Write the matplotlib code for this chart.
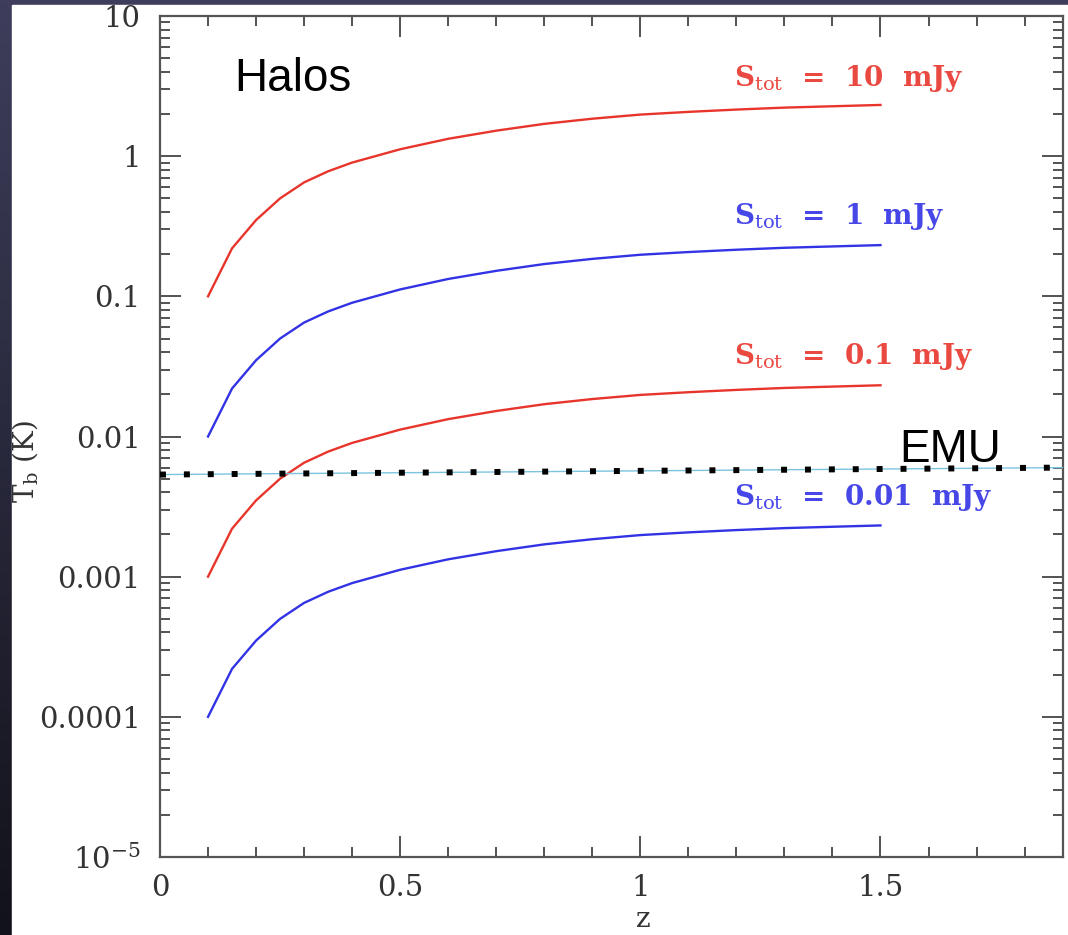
import matplotlib.pyplot as plt
import numpy as np
from matplotlib.patches import Rectangle
from matplotlib.ticker import FixedLocator, FixedFormatter, LogLocator, MultipleLocator, NullFormatter

plt.rcParams["mathtext.fontset"] = "dejavuserif"

# redshift grid of the model curves
z = [0.1, 0.15, 0.2, 0.25, 0.3, 0.35, 0.4, 0.5, 0.6, 0.7, 0.8, 0.9, 1.0, 1.1, 1.2, 1.3, 1.4, 1.5]
# brightness temperature (K) for each total flux
tb_10 = [0.1, 0.22, 0.35, 0.5, 0.65, 0.78, 0.9, 1.12, 1.33, 1.52, 1.7, 1.85, 1.98, 2.07, 2.15, 2.22, 2.27, 2.32]
tb_1 = [0.01, 0.022, 0.035, 0.05, 0.065, 0.078, 0.09, 0.112, 0.133, 0.152, 0.17, 0.185, 0.198, 0.207, 0.215, 0.222, 0.227, 0.232]
tb_01 = [0.001, 0.0022, 0.0035, 0.005, 0.0065, 0.0078, 0.009, 0.0112, 0.0133, 0.0152, 0.017, 0.0185, 0.0198, 0.0207, 0.0215, 0.0222, 0.0227, 0.0232]
tb_001 = [0.0001, 0.00022, 0.00035, 0.0005, 0.00065, 0.00078, 0.0009, 0.00112, 0.00133, 0.00152, 0.0017, 0.00185, 0.00198, 0.00207, 0.00215, 0.00222, 0.00227, 0.00232]

series = [
    (tb_10, "#e8352c", r"S$_{\rm tot}$  =  10  mJy", 3.6),
    (tb_1, "#3333e6", r"S$_{\rm tot}$  =  1  mJy", 0.37),
    (tb_01, "#e8352c", r"S$_{\rm tot}$  =  0.1  mJy", 0.037),
    (tb_001, "#3333e6", r"S$_{\rm tot}$  =  0.01  mJy", 0.0037),
]

# EMU sensitivity line
emu_z = [0.0, 1.88]
emu_tb = [0.00535, 0.0060]

ytick_vals = [1e-5, 1e-4, 1e-3, 1e-2, 1e-1, 1, 10]
ytick_labels = [r"$10^{-5}$", "0.0001", "0.001", "0.01", "0.1", "1", "10"]
xtick_vals = [0, 0.5, 1, 1.5]
xtick_labels = ["0", "0.5", "1", "1.5"]

W, H = 1068, 935
fig = plt.figure(figsize=(W / 100, H / 100), dpi=100)

# dark slide background with a white panel
bg = fig.add_axes([0, 0, 1, 1], zorder=-10)
grad = np.linspace(0, 1, 256)[:, None]
top = np.array([0x3e, 0x3e, 0x5c]) / 255
bot = np.array([0x12, 0x12, 0x1a]) / 255
img = top[None, None, :] * (1 - grad[..., None]) + bot[None, None, :] * grad[..., None]
bg.imshow(np.repeat(img, 4, axis=1), aspect="auto", extent=[0, 1, 0, 1])
bg.add_patch(Rectangle((12 / W, 0), 1, 1 - 5 / H, color="white", transform=bg.transAxes))
bg.set_axis_off()

ax = fig.add_axes([160 / W, 1 - 857 / H, (1063 - 160) / W, (857 - 16) / H])
ax.set_yscale("log")
ax.set_xlim(0, 1.88)
ax.set_ylim(1e-5, 10)

for tb, col, lab, ly in series:
    ax.plot(z, tb, color=col, lw=1.7)
    ax.text(1.194, ly, lab, color=col, fontsize=20, fontweight="bold", family="DejaVu Serif",
            va="center", ha="left", alpha=0.9)

ax.plot(emu_z, emu_tb, color="#7cc4de", lw=1, zorder=3)
ax.plot(emu_z, emu_tb, color="black", lw=4.3, linestyle=(0, (1, 3.0)), zorder=4, clip_on=False)

ax.text(0.155, 2.9, "Halos", fontsize=33, family="Liberation Sans", color="black")
ax.text(1.54, 0.0066, "EMU", fontsize=33, family="Liberation Sans", color="black")

ax.yaxis.set_major_locator(FixedLocator(ytick_vals))
ax.yaxis.set_major_formatter(FixedFormatter(ytick_labels))
ax.yaxis.set_minor_locator(LogLocator(base=10, subs=np.arange(2, 10)))
ax.yaxis.set_minor_formatter(NullFormatter())
ax.xaxis.set_major_locator(FixedLocator(xtick_vals))
ax.xaxis.set_major_formatter(FixedFormatter(xtick_labels))
ax.xaxis.set_minor_locator(MultipleLocator(0.1))

ax.tick_params(which="both", direction="in", top=True, right=True, colors="#444444",
               labelcolor="#333333", labelsize=21, width=1.3)
ax.tick_params(which="major", length=15)
ax.tick_params(which="minor", length=7)
ax.tick_params(axis="y", pad=14)
ax.tick_params(axis="x", pad=12)
for lab in ax.get_xticklabels() + ax.get_yticklabels():
    lab.set_family("DejaVu Serif")
for s in ax.spines.values():
    s.set_color("#555555")
    s.set_linewidth(1.6)

ax.set_ylabel(r"T$_{\rm b}$ (K)", fontsize=20, family="DejaVu Serif", color="#333333")
ax.yaxis.set_label_coords(-0.133, 0.47)
ax.set_xlabel("z", fontsize=20, family="DejaVu Serif", color="#333333")
ax.xaxis.set_label_coords(0.535, -0.058)

fig.savefig("out.png", dpi=100)
